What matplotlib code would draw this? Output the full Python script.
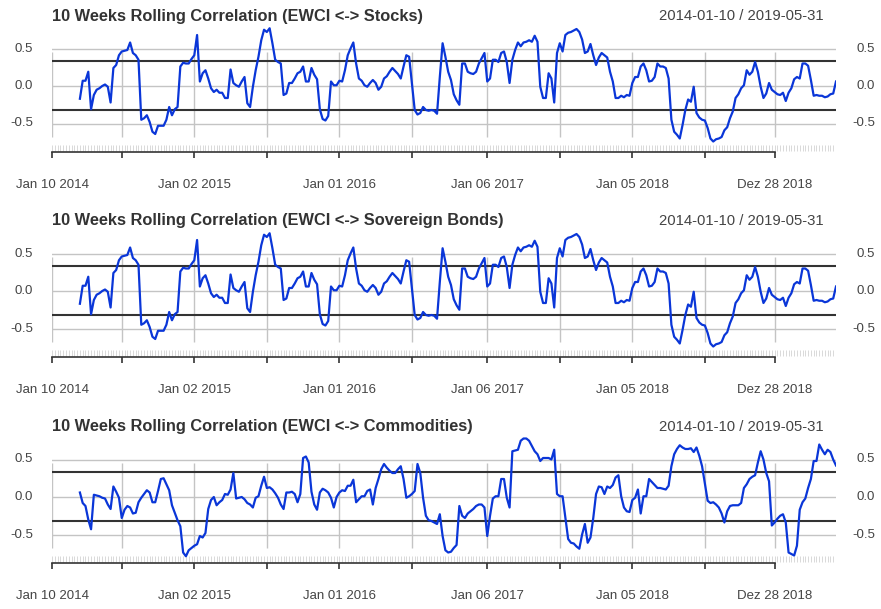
import numpy
import pandas as pd
import matplotlib as mpl
mpl.use('Agg')
import matplotlib.pyplot as plt

#
#--- weekly observations (fridays) 2014-01-10 ... 2019-05-31
#
dates = pd.date_range('2014-01-10', '2019-05-31', freq='7D')

#
#--- 10 weeks rolling correlations (leading obs are NA)
#
stocks_corr = [
    -0.17, 0.07, 0.07, 0.19, -0.31, -0.12, -0.05, -0.03, 0.00, 0.02,
    -0.01, -0.22, 0.24, 0.28, 0.41, 0.46, 0.47, 0.48, 0.58, 0.44,
    0.41, 0.35, -0.45, -0.43, -0.39, -0.48, -0.61, -0.64, -0.53, -0.53,
    -0.53, -0.45, -0.28, -0.39, -0.31, -0.28, 0.26, 0.31, 0.30, 0.30,
    0.36, 0.41, 0.68, 0.06, 0.17, 0.21, 0.10, -0.03, -0.08, -0.05,
    -0.09, -0.09, -0.16, -0.16, 0.22, 0.04, 0.01, -0.01, 0.06, 0.12,
    -0.23, -0.28, -0.01, 0.21, 0.39, 0.61, 0.75, 0.72, 0.77, 0.57,
    0.35, 0.32, 0.30, -0.12, -0.10, 0.04, 0.04, 0.10, 0.17, 0.19,
    0.26, 0.06, 0.06, 0.24, 0.15, 0.09, -0.31, -0.44, -0.46, -0.40,
    0.06, 0.01, 0.01, 0.07, 0.06, 0.21, 0.41, 0.50, 0.58, 0.30,
    0.10, 0.07, 0.01, -0.01, 0.04, 0.08, 0.04, -0.05, -0.01, 0.10,
    0.13, 0.19, 0.24, 0.20, 0.16, 0.10, 0.26, 0.41, 0.39, 0.04,
    -0.32, -0.38, -0.36, -0.28, -0.32, -0.33, -0.32, -0.33, -0.37, 0.12,
    0.57, 0.39, 0.19, 0.08, -0.11, -0.19, -0.25, 0.30, 0.30, 0.19,
    0.17, 0.16, 0.19, 0.30, 0.37, 0.44, 0.06, 0.10, 0.35, 0.35,
    0.32, 0.44, 0.46, 0.32, 0.04, 0.35, 0.48, 0.58, 0.53, 0.58,
    0.59, 0.61, 0.59, 0.67, 0.59, -0.01, -0.16, -0.16, 0.17, 0.10,
    -0.22, 0.44, 0.57, 0.46, 0.68, 0.71, 0.72, 0.74, 0.76, 0.72,
    0.62, 0.44, 0.46, 0.56, 0.41, 0.28, 0.38, 0.44, 0.41, 0.38,
    0.19, 0.06, -0.16, -0.16, -0.13, -0.15, -0.12, -0.13, 0.04, 0.12,
    0.12, 0.26, 0.30, 0.21, 0.06, 0.07, 0.12, 0.30, 0.26, 0.26,
    0.24, 0.10, -0.45, -0.61, -0.65, -0.70, -0.52, -0.32, -0.18, -0.21,
    -0.01, -0.36, -0.42, -0.45, -0.46, -0.56, -0.70, -0.74, -0.71, -0.70,
    -0.68, -0.59, -0.55, -0.43, -0.34, -0.16, -0.11, -0.03, 0.01, 0.21,
    0.15, 0.19, 0.32, 0.19, -0.01, -0.16, -0.10, 0.04, -0.05, -0.08,
    -0.11, -0.12, -0.09, -0.20, -0.09, -0.03, 0.09, 0.12, 0.10, 0.30,
    0.30, 0.27, 0.08, -0.13, -0.12, -0.13, -0.13, -0.15, -0.14, -0.11,
    -0.10, 0.06]

#
#--- the bonds panel shows the very same curve as the stocks panel
#
bonds_corr = stocks_corr[:]

cmdty_corr = [
    0.06, -0.08, -0.12, -0.30, -0.43, 0.03, 0.02, 0.01, -0.01, -0.02,
    -0.10, -0.16, 0.14, 0.07, -0.01, -0.28, -0.17, -0.12, -0.14, -0.22,
    -0.21, -0.07, -0.01, 0.04, 0.09, 0.06, -0.07, -0.07, 0.08, 0.24,
    0.25, 0.17, 0.09, -0.11, -0.21, -0.31, -0.39, -0.74, -0.79, -0.71,
    -0.68, -0.65, -0.63, -0.52, -0.54, -0.48, -0.16, -0.04, 0.00, -0.11,
    -0.07, -0.04, 0.04, 0.03, 0.10, 0.32, -0.02, -0.01, 0.00, -0.03,
    -0.08, -0.10, -0.14, -0.01, 0.01, 0.15, 0.27, 0.12, 0.13, 0.10,
    0.05, -0.01, -0.10, -0.16, 0.06, 0.06, 0.07, 0.04, -0.07, 0.04,
    0.52, 0.54, 0.46, 0.07, -0.10, -0.17, 0.06, 0.11, 0.09, 0.06,
    -0.01, -0.14, 0.00, 0.06, 0.09, 0.08, 0.15, 0.15, 0.23, -0.07,
    -0.03, 0.01, 0.01, 0.08, 0.10, -0.10, 0.12, 0.24, 0.37, 0.44,
    0.39, 0.35, 0.32, 0.32, 0.37, 0.41, 0.24, -0.01, 0.01, 0.04,
    0.08, 0.44, 0.32, -0.01, -0.25, -0.31, -0.32, -0.34, -0.36, -0.23,
    -0.52, -0.71, -0.74, -0.73, -0.68, -0.64, -0.12, -0.25, -0.28, -0.22,
    -0.19, -0.16, -0.12, -0.10, -0.10, -0.14, -0.52, -0.25, -0.02, 0.01,
    0.01, 0.24, 0.24, -0.01, -0.14, 0.61, 0.62, 0.63, 0.75, 0.78,
    0.78, 0.75, 0.68, 0.61, 0.57, 0.48, 0.52, 0.52, 0.52, 0.50,
    0.63, 0.04, 0.01, 0.01, -0.28, -0.56, -0.61, -0.62, -0.66, -0.69,
    -0.50, -0.36, -0.61, -0.54, -0.28, 0.04, 0.14, 0.13, 0.04, 0.14,
    0.12, 0.16, 0.26, 0.29, 0.01, -0.14, -0.19, -0.20, -0.04, -0.01,
    0.10, -0.22, 0.01, 0.01, 0.24, 0.20, 0.16, 0.12, 0.12, 0.11,
    0.10, 0.15, 0.41, 0.57, 0.64, 0.69, 0.66, 0.64, 0.64, 0.65,
    0.60, 0.66, 0.55, 0.41, 0.18, -0.05, -0.08, -0.07, -0.10, -0.14,
    -0.22, -0.34, -0.19, -0.12, -0.11, -0.11, -0.11, -0.08, 0.12, 0.17,
    0.24, 0.27, 0.29, 0.46, 0.61, 0.50, 0.32, 0.21, -0.38, -0.34,
    -0.29, -0.25, -0.23, -0.34, -0.74, -0.76, -0.78, -0.65, -0.17, -0.07,
    -0.02, 0.12, 0.24, 0.48, 0.48, 0.70, 0.63, 0.57, 0.63, 0.60,
    0.50, 0.42]

titles = ['10 Weeks Rolling Correlation (EWCI <-> Stocks)',
          '10 Weeks Rolling Correlation (EWCI <-> Sovereign Bonds)',
          '10 Weeks Rolling Correlation (EWCI <-> Commodities)']
series = [stocks_corr, bonds_corr, cmdty_corr]
range_text = '2014-01-10 / 2019-05-31'

upper_band = 0.34
lower_band = -0.32

y_ticks = [-0.5, 0.0, 0.5]
y_labels = ['-0.5', '0.0', '0.5']

tick_dates = ['2014-01-10', '2014-07-04', '2015-01-02', '2015-07-03', '2016-01-01',
              '2016-07-01', '2017-01-06', '2017-07-07', '2018-01-05', '2018-07-06',
              '2018-12-28']
tick_labels = ['Jan 10 2014', '', 'Jan 02 2015', '', 'Jan 01 2016', '',
               'Jan 06 2017', '', 'Jan 05 2018', '', 'Dez 28 2018']

#
#--- colours
#
line_col = '#0a36d8'
band_col = '#333333'
grid_col = '#c4c4c4'
text_col = '#444444'

mpl.rcParams['font.family'] = ['Liberation Sans', 'DejaVu Sans']

#--------------------------------------------------------------------------------
#-- plot_panel: one xts style panel                                            --
#--------------------------------------------------------------------------------

def plot_panel(fig, zero_px, title, vals):
    """
    draw one rolling correlation panel
    input:  fig     --- figure
            zero_px --- pixel row (from the top) of the zero line
            title   --- panel title
            vals    --- correlation values (end aligned on dates)
    output: none
    """
    W, H = 881.0, 609.0
    ylo, yhi = -1.0, 0.9
    ppu = 75.0                                  #--- pixels per unit
    top = zero_px - yhi * ppu
    bot = zero_px - ylo * ppu
    ax = fig.add_axes([52 / W, 1 - bot / H, 784 / W, (bot - top) / H])

    nobs = len(dates)
    xall = numpy.arange(nobs)
    x = xall[nobs - len(vals):]
    xt = dates.get_indexer(pd.to_datetime(tick_dates))

    ax.set_xlim(0, nobs - 1)
    ax.set_ylim(ylo, yhi)
#
#--- grid
#
    for v in y_ticks:
        ax.axhline(v, color=grid_col, lw=1.0, zorder=1)
    ax.vlines(xt, -0.68, 0.45, color=grid_col, lw=1.0, zorder=1)
#
#--- minor ticks at every observation
#
    ax.vlines(xall, -0.86, -0.78, color='#d9d9d9', lw=0.7, zorder=1)
#
#--- bands and data
#
    ax.axhline(upper_band, color=band_col, lw=1.5, zorder=2)
    ax.axhline(lower_band, color=band_col, lw=1.5, zorder=2)
    ax.plot(x, vals, color=line_col, lw=1.6, zorder=3)
#
#--- axes decoration
#
    for s in ['top', 'right', 'left']:
        ax.spines[s].set_visible(False)
    ax.spines['bottom'].set_position(('data', -0.88))
    ax.spines['bottom'].set_bounds(xt[0], xt[-1])
    ax.spines['bottom'].set_color(band_col)
    ax.spines['bottom'].set_linewidth(1.2)
    ax.set_xticks(xt)
    ax.set_xticklabels(tick_labels)
    ax.tick_params(axis='x', direction='out', length=4.5, width=1.2,
                   color=band_col, pad=15, labelsize=9.5, labelcolor=text_col)
    ax.set_yticks([])

    ytrans = ax.get_yaxis_transform()
    for v, lab in zip(y_ticks, y_labels):
        ax.text(-19 / 784.0, v, lab, transform=ytrans, ha='right', va='center',
                fontsize=9.5, color=text_col)
        ax.text(1 + 39 / 784.0, v, lab, transform=ytrans, ha='right', va='center',
                fontsize=9.5, color=text_col)
#
#--- title and date range
#
    ty = 1 - (zero_px - 70) / H
    fig.text(52 / W, ty, title, ha='left', va='center', fontsize=11.8,
             fontweight='bold', color='#333333')
    fig.text(824 / W, ty, range_text, ha='right', va='center',
             fontsize=10.7, color=text_col)
    return ax

#--------------------------------------------------------------------------------

if __name__ == '__main__':

    fig = plt.figure(figsize=(8.81, 6.09), dpi=100)
    fig.patch.set_facecolor('white')

    for zero_px, title, vals in zip([86, 291, 497], titles, series):
        plot_panel(fig, zero_px, title, vals)

    plt.savefig('out.png', dpi=100, facecolor='white')
    plt.close('all')
